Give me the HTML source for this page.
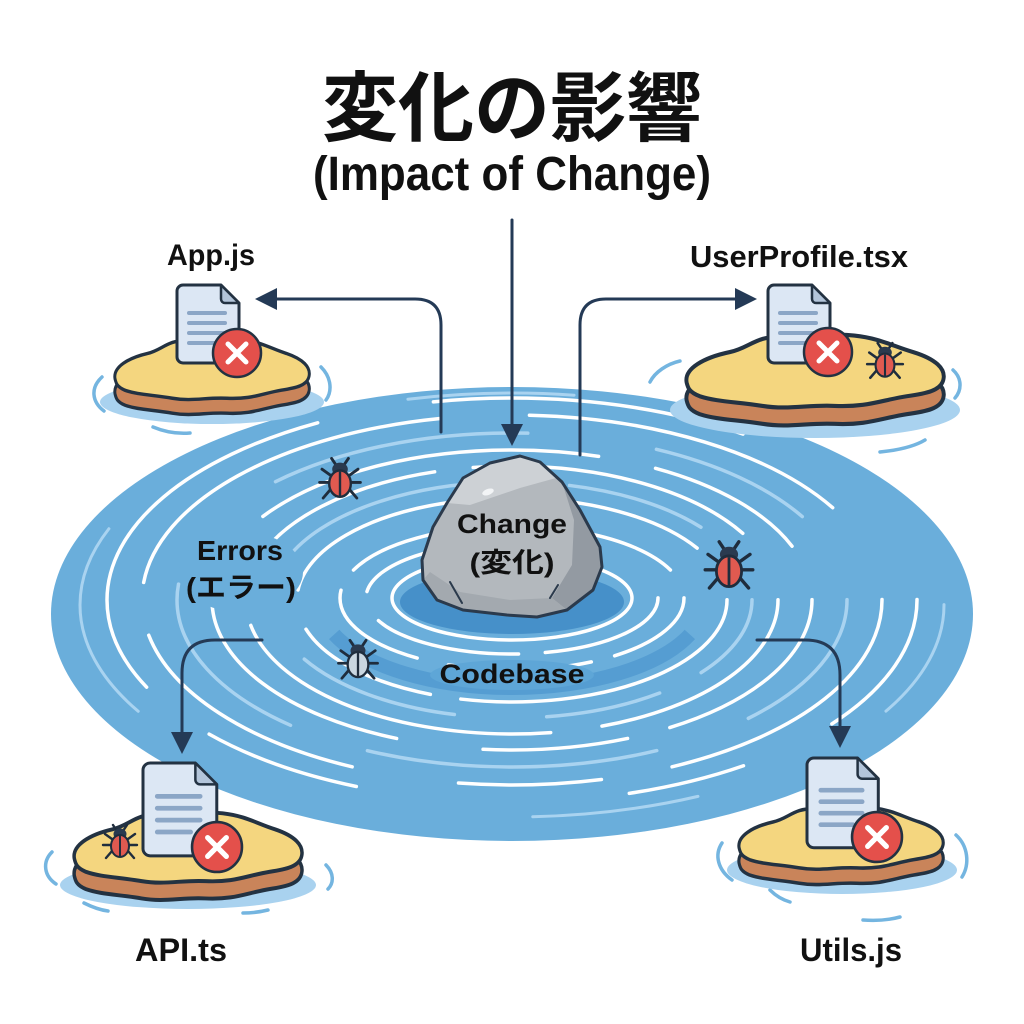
<!DOCTYPE html>
<html>
<head>
<meta charset="utf-8">
<style>
html,body{margin:0;padding:0;background:#fff;}
svg{display:block;}
text{font-family:"Liberation Sans","Noto Sans CJK JP",sans-serif;font-weight:700;fill:#111;}
</style>
</head>
<body>
<svg width="1024" height="1024" viewBox="0 0 1024 1024" xmlns="http://www.w3.org/2000/svg">
<defs>
  <g id="bug">
    <g stroke="#1f2d3d" stroke-width="2.4" stroke-linecap="round" fill="none">
      <path d="M-8,-4 L-15,-9 M-9,2 L-17,2 M-8,8 L-14,15 M8,-4 L15,-9 M9,2 L17,2 M8,8 L14,15 M-3,-12 L-7,-18 M3,-12 L7,-18"/>
    </g>
    <ellipse cx="0" cy="-9" rx="6.5" ry="5.5" fill="#2a3a4f"/>
    <ellipse cx="0" cy="3" rx="9" ry="11" fill="#e05a50" stroke="#1f2d3d" stroke-width="2"/>
    <line x1="0" y1="-7" x2="0" y2="14" stroke="#1f2d3d" stroke-width="2"/>
  </g>
  <g id="bugg">
    <g stroke="#1f2d3d" stroke-width="2.4" stroke-linecap="round" fill="none">
      <path d="M-8,-4 L-15,-9 M-9,2 L-17,2 M-8,8 L-14,15 M8,-4 L15,-9 M9,2 L17,2 M8,8 L14,15 M-3,-12 L-7,-18 M3,-12 L7,-18"/>
    </g>
    <ellipse cx="0" cy="-9" rx="6.5" ry="5.5" fill="#2a3a4f"/>
    <ellipse cx="0" cy="3" rx="9" ry="11" fill="#c9d6e0" stroke="#1f2d3d" stroke-width="2"/>
    <line x1="0" y1="-7" x2="0" y2="14" stroke="#1f2d3d" stroke-width="2"/>
  </g>
  <g id="doc">
    <path d="M6,0 H44 L62,18 V72 A6,6 0 0 1 56,78 H6 A6,6 0 0 1 0,72 V6 A6,6 0 0 1 6,0 Z" fill="#dce7f4" stroke="#233242" stroke-width="3" stroke-linejoin="round" vector-effect="non-scaling-stroke"/>
    <path d="M44,0 V14 A4,4 0 0 0 48,18 H62 Z" fill="#b3c5da" stroke="#233242" stroke-width="2.5" stroke-linejoin="round" vector-effect="non-scaling-stroke"/>
    <g stroke="#8ba6c6" stroke-width="4" stroke-linecap="round">
      <line x1="12" y1="28" x2="48" y2="28"/>
      <line x1="12" y1="38" x2="48" y2="38"/>
      <line x1="12" y1="48" x2="48" y2="48"/>
      <line x1="12" y1="58" x2="40" y2="58"/>
    </g>
  </g>
  <g id="xc">
    <circle cx="0" cy="0" r="24" fill="#e4504b" stroke="#233242" stroke-width="2.5"/>
    <path d="M-9,-9 L9,9 M9,-9 L-9,9" stroke="#fff" stroke-width="5" stroke-linecap="round"/>
  </g>
  <path id="sandp" d="M2,38 C0,28 15,20 35,16 C50,13 55,4 75,5 C95,6 110,2 130,4 C150,6 160,12 175,16 C192,21 200,28 198,36 C196,44 185,46 170,48 C150,51 140,56 115,55 C95,54 80,58 60,55 C40,52 25,52 12,48 C4,45 3,42 2,38 Z"/>
  <g id="island">
    <use href="#sandp" transform="translate(0,13)" fill="#c9845a" stroke="#233242" stroke-width="3" vector-effect="non-scaling-stroke"/>
    <use href="#sandp" fill="#f4d67f" stroke="#233242" stroke-width="3" vector-effect="non-scaling-stroke"/>
  </g>
</defs>

<rect width="1024" height="1024" fill="#fff"/>

<!-- Big water -->
<ellipse cx="512" cy="614" rx="461" ry="227" fill="#6aaedb"/>

<!-- dark band -->
<ellipse cx="512" cy="602" rx="192" ry="86" fill="none" stroke="#559dd2" stroke-width="14" pathLength="100" stroke-dasharray="0 4 42 54"/>
<ellipse cx="512" cy="602" rx="112" ry="32" fill="#4690c9"/>

<!-- Rings -->
<g fill="none" stroke-linecap="round">
  <ellipse cx="512" cy="598" rx="120" ry="42" stroke="#fff" stroke-width="3.5"/>
  <ellipse cx="512" cy="598" rx="146" ry="56" stroke="#fff" stroke-width="3.5" pathLength="100" stroke-dasharray="20 4 22 5 30 19"/>
  <ellipse cx="512" cy="598" rx="172" ry="72" stroke="#fff" stroke-width="3.5" pathLength="100" stroke-dasharray="12 3 18 4 14 3 26 4 12 4"/>
  <ellipse cx="512" cy="600" rx="215" ry="102" stroke="#fff" stroke-width="3.5" pathLength="100" stroke-dasharray="30 3 14 4 18 5 20 6"/>
  <ellipse cx="512" cy="600" rx="240" ry="118" stroke="#a9d3f0" stroke-width="3.5" pathLength="100" stroke-dasharray="8 4 10 8 14 10 20 6 12 8"/>
  <ellipse cx="512" cy="600" rx="266" ry="134" stroke="#fff" stroke-width="3.5" pathLength="100" stroke-dasharray="18 4 26 5 16 3 22 6"/>
  <ellipse cx="512" cy="600" rx="300" ry="150" stroke="#fff" stroke-width="3.5" pathLength="100" stroke-dasharray="14 3 10 6 20 4 24 4 11 4"/>
  <ellipse cx="512" cy="600" rx="335" ry="167" stroke="#a9d3f0" stroke-width="3.5" pathLength="100" stroke-dasharray="10 6 18 5 12 9 16 8 10 6"/>
  <ellipse cx="512" cy="600" rx="370" ry="185" stroke="#fff" stroke-width="3.5" pathLength="100" stroke-dasharray="16 4 8 6 14 3 20 5 18 6"/>
  <ellipse cx="512" cy="600" rx="405" ry="202" stroke="#fff" stroke-width="3.5" pathLength="100" stroke-dasharray="8 5 6 14 8 4 20 6 16 13"/>
  <ellipse cx="512" cy="605" rx="432" ry="212" stroke="#a9d3f0" stroke-width="3" pathLength="100" stroke-dasharray="6 10 8 20 10 16 8 22"/>
</g>

<!-- label backings -->
<ellipse cx="241" cy="572" rx="62" ry="40" fill="#6aaedb"/>
<ellipse cx="512" cy="675" rx="82" ry="15" fill="#5ea6d7"/>

<!-- Rock -->
<g stroke-linejoin="round">
  <polygon points="490,463 520,456 540,462 562,482 580,510 600,547 602,567 593,590 567,610 537,617 507,615 463,610 437,600 423,580 422,560 433,527 447,503 463,478" fill="#b3b8bd"/>
  <polygon points="463,478 490,463 520,456 540,462 556,478 520,488 470,505 447,503" fill="#cdd1d5"/>
  <polygon points="562,482 580,510 600,547 602,567 593,590 567,610 552,598 572,565 574,520" fill="#939aa2"/>
  <polygon points="423,580 437,600 463,610 507,615 537,617 567,610 552,598 510,600 460,592 430,572" fill="#a3a9af"/>
  <polygon points="490,463 520,456 540,462 562,482 580,510 600,547 602,567 593,590 567,610 537,617 507,615 463,610 437,600 423,580 422,560 433,527 447,503 463,478" fill="none" stroke="#2b3a4c" stroke-width="3"/>
  <ellipse cx="488" cy="492" rx="6" ry="3" fill="#f2f4f6" transform="rotate(-20 488 492)"/>
  <path d="M450,582 L462,603 M558,585 L550,598" stroke="#2b3a4c" stroke-width="2" fill="none" stroke-linecap="round"/>
</g>

<!-- water bugs -->
<use href="#bug" transform="translate(340,480) scale(1.2)"/>
<use href="#bug" transform="translate(729,567) scale(1.4)"/>
<use href="#bugg" transform="translate(358,661) scale(1.15)"/>

<!-- Island waters -->
<g fill="none" stroke="#74b5e0" stroke-width="3.5" stroke-linecap="round">
  <path d="M102,377 C90,388 92,402 104,411"/>
  <path d="M153,427 C165,432 178,434 190,433"/>
  <path d="M321,367 C332,378 332,392 326,400"/>
  <path d="M650,382 C655,372 667,364 680,361"/>
  <path d="M953,370 C962,378 962,390 955,398"/>
  <path d="M880,452 C900,450 915,446 925,440"/>
  <path d="M52,852 C42,862 44,876 56,884"/>
  <path d="M84,903 C92,907 100,910 108,911"/>
  <path d="M243,913 C252,913 260,912 268,910"/>
  <path d="M326,865 C334,873 334,883 328,889"/>
  <path d="M722,843 C714,855 718,870 732,880"/>
  <path d="M770,890 C776,896 783,900 790,902"/>
  <path d="M863,920 C876,921 889,920 900,917"/>
  <path d="M956,835 C968,846 970,864 962,877"/>
</g>
<g fill="#a9d2ef">
  <ellipse cx="212" cy="402" rx="112" ry="22"/>
  <ellipse cx="815" cy="410" rx="145" ry="28"/>
  <ellipse cx="188" cy="885" rx="128" ry="24"/>
  <ellipse cx="842" cy="870" rx="115" ry="24"/>
</g>

<!-- Islands -->
<use href="#island" transform="translate(113,335) scale(0.99,1.15)"/>
<use href="#island" transform="translate(684,330) scale(1.31,1.38)"/>
<use href="#island" transform="translate(72,808) scale(1.16,1.33)"/>
<use href="#island" transform="translate(737,803) scale(1.04,1.18)"/>

<!-- Docs and X -->
<use href="#doc" transform="translate(177,285)"/>
<use href="#xc" transform="translate(237,353)"/>
<use href="#doc" transform="translate(768,285)"/>
<use href="#xc" transform="translate(828,352)"/>
<use href="#bug" transform="translate(885,362) scale(1.05)"/>
<use href="#doc" transform="translate(143,763) scale(1.19)"/>
<use href="#xc" transform="translate(217,847) scale(1.04)"/>
<use href="#bug" transform="translate(120,843) scale(1.0)"/>
<use href="#doc" transform="translate(807,758) scale(1.15)"/>
<use href="#xc" transform="translate(877,837) scale(1.04)"/>

<!-- Arrows -->
<g fill="none" stroke="#243a56" stroke-width="3" stroke-linecap="round">
  <path d="M512,220 L512,428"/>
  <path d="M441,432 L441,325 Q441,299 415,299 L274,299"/>
  <path d="M580,455 L580,325 Q580,299 606,299 L738,299"/>
  <path d="M262,640 L215,640 Q182,640 182,673 L182,735"/>
  <path d="M757,640 L805,640 Q840,640 840,675 L840,729"/>
</g>
<g fill="#243a56">
  <polygon points="501,424 523,424 512,446"/>
  <polygon points="255,299 277,288 277,310"/>
  <polygon points="757,299 735,288 735,310"/>
  <polygon points="182,754 171,732 193,732"/>
  <polygon points="840,748 829,726 851,726"/>
</g>

<!-- Text -->
<text x="512" y="135" text-anchor="middle" font-size="76" style="font-family:'Noto Sans CJK JP','Liberation Sans',sans-serif;">変化の影響</text>
<text x="512" y="190" text-anchor="middle" font-size="48" textLength="398" lengthAdjust="spacingAndGlyphs">(Impact of Change)</text>
<text x="211" y="265" text-anchor="middle" font-size="30" textLength="88" lengthAdjust="spacingAndGlyphs">App.js</text>
<text x="799" y="267" text-anchor="middle" font-size="31" textLength="218" lengthAdjust="spacingAndGlyphs">UserProfile.tsx</text>
<text x="181" y="961" text-anchor="middle" font-size="32" textLength="92" lengthAdjust="spacingAndGlyphs">API.ts</text>
<text x="851" y="961" text-anchor="middle" font-size="32" textLength="102" lengthAdjust="spacingAndGlyphs">Utils.js</text>
<text x="240" y="560" text-anchor="middle" font-size="28" textLength="86" lengthAdjust="spacingAndGlyphs">Errors</text>
<text x="241" y="597" text-anchor="middle" font-size="28" textLength="110" lengthAdjust="spacingAndGlyphs">(エラー)</text>
<text x="512" y="533" text-anchor="middle" font-size="27" textLength="110" lengthAdjust="spacingAndGlyphs">Change</text>
<text x="512" y="572" text-anchor="middle" font-size="27" textLength="85" lengthAdjust="spacingAndGlyphs">(変化)</text>
<text x="512" y="683" text-anchor="middle" font-size="27" textLength="145" lengthAdjust="spacingAndGlyphs">Codebase</text>
</svg>
</body>
</html>
